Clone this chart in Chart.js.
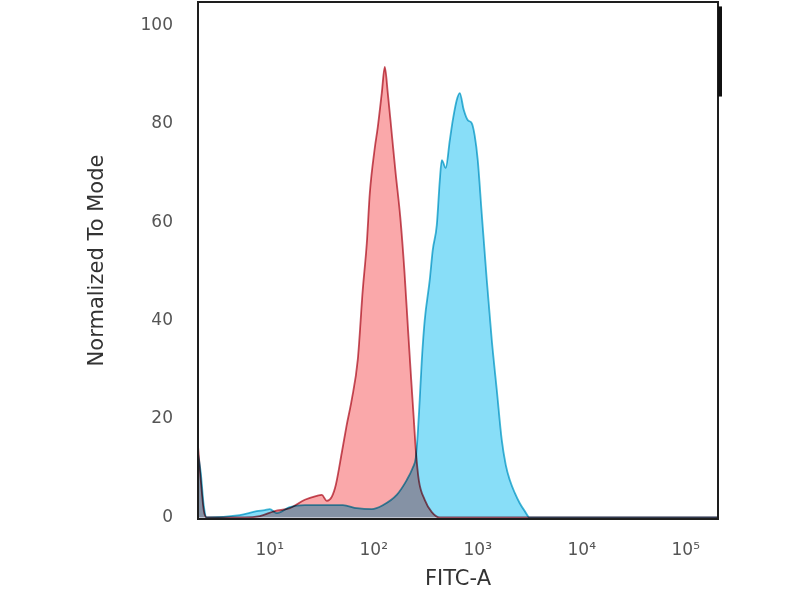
<!DOCTYPE html>
<html>
<head>
<meta charset="utf-8">
<script src="https://cdn.jsdelivr.net/npm/chart.js@4/dist/chart.umd.min.js"></script>
<style>
  html, body { margin: 0; padding: 0; background: #ffffff; }
  canvas { display: block; }
</style>
</head>
<body>
<canvas id="c" width="800" height="600"></canvas>
<script>
// FITC-A axis positions in decades (log10 of intensity)
const redX = [0.31, 0.337, 0.365, 0.394, 0.76, 0.904, 1.048, 1.192, 1.337, 1.452, 1.5, 1.548, 1.596, 1.635, 1.692, 1.74, 1.788, 1.846, 1.894, 1.933, 1.962, 2.01, 2.038, 2.077, 2.106, 2.135, 2.173, 2.21, 2.255, 2.295, 2.33, 2.36, 2.385, 2.405, 2.433, 2.49, 2.558, 2.635, 5.31];
const redY = [14.5, 7.6, 1.5, 0, 0, 0.3, 1.3, 1.9, 3.6, 4.4, 4.6, 3.4, 4.2, 6.6, 13.1, 18.8, 23.9, 32.0, 46.2, 55.7, 65.9, 75.1, 79.2, 86.2, 91.5, 86.2, 78.0, 70.0, 61.0, 50.0, 38.0, 28.0, 20.0, 13.5, 7.6, 3.6, 1.1, 0, 0];

const blueX = [0.31, 0.337, 0.365, 0.394, 0.712, 0.875, 0.952, 1.0, 1.067, 1.192, 1.337, 1.51, 1.702, 1.837, 1.981, 2.087, 2.221, 2.317, 2.375, 2.404, 2.423, 2.442, 2.462, 2.49, 2.538, 2.567, 2.606, 2.635, 2.654, 2.692, 2.731, 2.76, 2.798, 2.827, 2.865, 2.904, 2.942, 2.971, 3.0, 3.038, 3.087, 3.135, 3.183, 3.231, 3.269, 3.308, 3.356, 3.404, 3.452, 3.5, 5.31];
const blueY = [13.0, 9.0, 2.5, 0, 0.5, 1.3, 1.5, 1.7, 0.9, 2.1, 2.5, 2.5, 2.5, 1.9, 1.7, 2.5, 4.6, 7.6, 10.1, 12.1, 17.0, 24.0, 32.0, 40.1, 48.2, 54.3, 59.4, 68.5, 72.6, 71.0, 76.6, 80.7, 84.8, 86.2, 82.8, 80.7, 80.1, 77.5, 72.6, 61.8, 48.2, 36.0, 25.9, 15.7, 10.7, 7.6, 5.0, 2.9, 1.3, 0, 0];

const xTickExps = [1, 2, 3, 4, 5];
const xTickLabels = ['10\u00B9', '10\u00B2', '10\u00B3', '10\u2074', '10\u2075'];
const yTicks = [0, 20, 40, 60, 80, 100];

const toPoints = (xs, ys) => xs.map((x, i) => ({ x: x, y: ys[i] }));

const whiteBg = {
  id: 'whiteBg',
  beforeDraw(chart) {
    const c = chart.ctx;
    c.save();
    c.fillStyle = '#ffffff';
    c.fillRect(0, 0, chart.width, chart.height);
    c.restore();
  }
};

const multiplyBlend = {
  id: 'multiplyBlend',
  beforeDatasetsDraw(chart) {
    chart.ctx.save();
    chart.ctx.globalCompositeOperation = 'multiply';
  },
  afterDatasetsDraw(chart) {
    chart.ctx.restore();
  }
};

const frame = {
  id: 'frame',
  afterDraw(chart) {
    const a = chart.chartArea;
    const c = chart.ctx;
    c.save();
    c.strokeStyle = '#1e1e1e';
    c.lineWidth = 2;
    c.strokeRect(a.left, a.top, a.right - a.left, a.bottom - a.top);
    // darker streak on the upper right edge
    const y = chart.scales.y;
    c.lineWidth = 4;
    c.strokeStyle = '#111';
    c.beginPath();
    c.moveTo(a.right + 2, y.getPixelForValue(103.8));
    c.lineTo(a.right + 2, y.getPixelForValue(85.5));
    c.stroke();
    c.restore();
  }
};

new Chart(document.getElementById('c'), {
  type: 'line',
  data: {
    datasets: [
      {
        label: 'Isotype',
        data: toPoints(redX, redY),
        borderColor: '#c4525f',
        backgroundColor: '#faa8aa',
        fill: 'origin',
        borderWidth: 1.8,
        pointRadius: 0,
        cubicInterpolationMode: 'monotone'
      },
      {
        label: 'Antibody',
        data: toPoints(blueX, blueY),
        borderColor: '#42b8d5',
        backgroundColor: '#88def8',
        fill: 'origin',
        borderWidth: 1.8,
        pointRadius: 0,
        cubicInterpolationMode: 'monotone'
      }
    ]
  },
  options: {
    responsive: false,
    animation: false,
    layout: { padding: { top: 2, right: 82, left: 0, bottom: 0 } },
    plugins: { legend: { display: false }, tooltip: { enabled: false } },
    scales: {
      x: {
        type: 'linear',
        min: 0.31,
        max: 5.31,
        grid: { display: false, drawTicks: false },
        border: { display: false },
        afterBuildTicks: (s) => { s.ticks = xTickExps.map(v => ({ value: v })); },
        afterFit: (s) => { s.height = 81; s.paddingLeft = 0; s.paddingRight = 0; s.paddingTop = 0; s.paddingBottom = 0; },
        ticks: {
          padding: 21,
          color: '#555',
          font: { family: 'DejaVu Sans', size: 17 },
          maxRotation: 0,
          autoSkip: false,
          callback: (v) => { const i = xTickExps.indexOf(v); return i >= 0 ? xTickLabels[i] : ''; }
        },
        title: {
          display: true,
          text: 'FITC-A',
          color: '#333',
          font: { family: 'DejaVu Sans', size: 21 },
          padding: { top: 0, bottom: 8 }
        }
      },
      y: {
        type: 'linear',
        min: -0.3,
        max: 104.7,
        grid: { display: false, drawTicks: false },
        border: { display: false },
        afterBuildTicks: (s) => { s.ticks = yTicks.map(v => ({ value: v })); },
        afterFit: (s) => { s.width = 198; s.paddingTop = 0; s.paddingBottom = 0; s.paddingLeft = 0; s.paddingRight = 0; },
        ticks: {
          padding: 25,
          color: '#555',
          font: { family: 'DejaVu Sans', size: 17 },
          autoSkip: false
        },
        title: {
          display: true,
          text: 'Normalized To Mode',
          color: '#333',
          font: { family: 'DejaVu Sans', size: 21 },
          padding: { top: 85, bottom: 0 }
        }
      }
    }
  },
  plugins: [whiteBg, multiplyBlend, frame]
});
</script>
</body>
</html>
